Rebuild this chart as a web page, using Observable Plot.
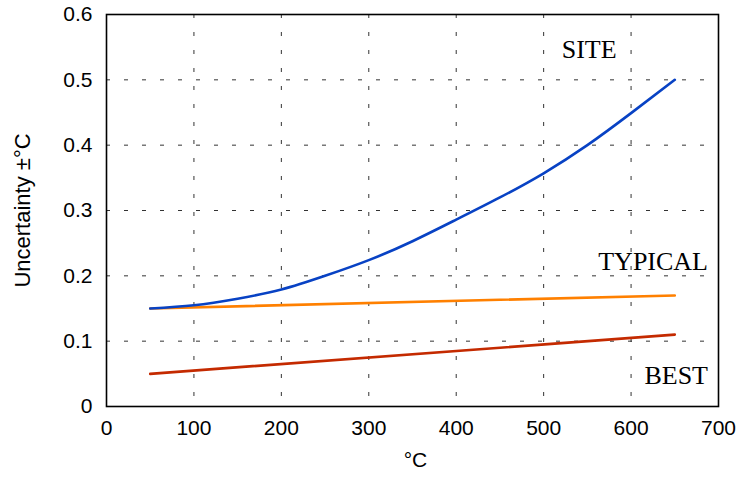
<!DOCTYPE html>
<html>
<head>
<meta charset="utf-8">
<script src="https://cdn.jsdelivr.net/npm/d3@7"></script>
<script src="https://cdn.jsdelivr.net/npm/@observablehq/plot@0.6"></script>
<style>
  html, body { margin: 0; padding: 0; background: #fff; }
  #chart { width: 739px; height: 479px; }
</style>
</head>
<body>
<div id="chart"></div>
<script>
// Temperature (°C) sample points for the curved SITE series
const temps = [50, 100, 150, 200, 250, 300, 350, 400, 450, 500, 550, 600, 650];
const siteValues = [0.150, 0.155, 0.165, 0.179, 0.200, 0.224, 0.253, 0.286, 0.320, 0.357, 0.400, 0.449, 0.500];
// Straight series: end points
const lineTemps = [50, 650];
const typicalValues = [0.150, 0.170];
const bestValues = [0.050, 0.110];

const xTicks = [0, 100, 200, 300, 400, 500, 600, 700];
const yTicks = [0, 0.1, 0.2, 0.3, 0.4, 0.5, 0.6];
const xGrid = [100, 200, 300, 400, 500, 600];
const yGrid = [0.1, 0.2, 0.3, 0.4, 0.5];

const siteLabel = [{text: "SITE", x: 552, y: 0.546}];
const endLabels = [
  {text: "TYPICAL", x: 688, y: 0.221},
  {text: "BEST", x: 688, y: 0.047}
];

const rows = (xs, vals) => xs.map((t, i) => ({t, v: vals[i]}));
const serif = "'Liberation Serif', 'Times New Roman', serif";

const chart = Plot.plot({
  width: 739,
  height: 479,
  marginLeft: 106,
  marginRight: 21,
  marginTop: 14,
  marginBottom: 73,
  style: {fontFamily: "'Liberation Sans', Arial, sans-serif", fontSize: "21px", color: "black", background: "white"},
  x: {domain: [0, 700]},
  y: {domain: [0, 0.6]},
  marks: [
    Plot.gridX(xGrid, {stroke: "#333", strokeOpacity: 1, strokeDasharray: "4,14"}),
    Plot.gridY(yGrid, {stroke: "#333", strokeOpacity: 1, strokeDasharray: "4,14"}),
    Plot.axisX(xTicks, {tickSize: 0, tickPadding: 14, label: null, fontSize: 21, tickFormat: d => String(d)}),
    Plot.axisY(yTicks, {tickSize: 0, tickPadding: 14, label: null, fontSize: 21, tickFormat: d => String(d)}),
    Plot.line(rows(lineTemps, bestValues), {x: "t", y: "v", stroke: "#c42a00", strokeWidth: 2.6}),
    Plot.line(rows(lineTemps, typicalValues), {x: "t", y: "v", stroke: "#ff8000", strokeWidth: 2.6}),
    Plot.line(rows(temps, siteValues), {x: "t", y: "v", stroke: "#0842c4", strokeWidth: 2.6, curve: "natural"}),
    Plot.text(siteLabel, {x: "x", y: "y", text: "text", textAnchor: "middle", fontFamily: serif, fontSize: 26, fill: "black"}),
    Plot.text(endLabels, {x: "x", y: "y", text: "text", textAnchor: "end", fontFamily: serif, fontSize: 26, fill: "black"}),
    Plot.text(["Uncertainty ±°C"], {frameAnchor: "left", dx: -84, rotate: -90, textAnchor: "middle", lineAnchor: "middle", fontSize: 22, fill: "black"}),
    Plot.text(["°C"], {frameAnchor: "bottom", dx: 3, dy: 60, fontSize: 21, fill: "black"}),
    Plot.frame({stroke: "black", strokeWidth: 1.6})
  ]
});
document.getElementById("chart").appendChild(chart);
</script>
</body>
</html>
